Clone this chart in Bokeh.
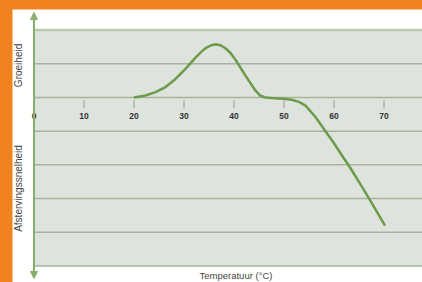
from bokeh.plotting import figure
from bokeh.models import Range1d, Arrow, NormalHead, GlobalInlineStyleSheet
from bokeh.core.properties import value
from bokeh.embed import file_html
from bokeh.resources import INLINE
import math

# ---- data ----
temps = [20, 22.3, 24.3, 26.3, 28.3, 30.3, 32.3, 33.5, 34.5, 35.5, 36.3, 37.3,
         38.3, 39.3, 40.3, 42.3, 44.3, 45.3, 46.3, 48, 50, 51.5, 53, 54.3,
         56.3, 58.3, 60, 61.6, 63.3, 65.3, 67.3, 70.2]
rate = [0, 0.06, 0.16, 0.31, 0.55, 0.85, 1.18, 1.36, 1.48, 1.55, 1.58, 1.55,
        1.46, 1.32, 1.12, 0.65, 0.2, 0.05, 0, -0.02, -0.04, -0.07, -0.13, -0.24,
        -0.58, -1.0, -1.36, -1.72, -2.1, -2.58, -3.07, -3.8]
x_ticks = [0, 10, 20, 30, 40, 50, 60, 70]
x_tick_labels = ["0", "10", "20", "30", "40", "50", "60", "70"]
grid_levels = [2, 1, 0, -1, -2, -3, -4, -5]
y_labels = ["Groeiheid", "Afstervingssnelheid"]
y_label_pos = [0.95, -2.7]
x_title = ["Temperatuur (°C)"]

X0, X1 = -4.3, 77.7
Y0, Y1 = -5.49, 2.61

css = GlobalInlineStyleSheet(css="html,body{background:#F08220;margin:0;padding:0;} body{padding:9px 0 0 12px;overflow:hidden;}")

p = figure(width=410, height=273, output_backend="svg", toolbar_location=None,
           x_range=Range1d(X0, X1), y_range=Range1d(Y0, Y1),
           min_border=0, outline_line_color=None,
           background_fill_color="white", border_fill_color="white",
           stylesheets=[css])
p.axis.visible = False
p.grid.visible = False

green_axis = "#86AE6C"
grid_col = "#A9B39F"
font = value("Liberation Sans")

# shaded plot area
p.quad(left=[0], right=[X1], bottom=[min(grid_levels)], top=[max(grid_levels)],
       fill_color="#DEE3DD", line_color=None)

# gridlines
gcols = ["#B9CAA6" if g == max(grid_levels) else grid_col for g in grid_levels]
gw = [2.5 if g == max(grid_levels) else 1.5 for g in grid_levels]
p.segment(x0=[0] * len(grid_levels), x1=[X1] * len(grid_levels),
          y0=grid_levels, y1=grid_levels, line_color=gcols, line_width=gw)

# x ticks
p.segment(x0=x_ticks, x1=x_ticks, y0=[-0.08] * len(x_ticks), y1=[-0.32] * len(x_ticks),
          line_color="#9A9A9A", line_width=1)
p.text(x=x_ticks, y=[-0.55] * len(x_ticks), text=x_tick_labels,
       text_font=font, text_font_size="8.5px", text_font_style="bold",
       text_color="#333333", text_align="center", text_baseline="middle")

# y axis with arrows
p.add_layout(Arrow(x_start=0, y_start=0, x_end=0, y_end=2.52, line_color=green_axis,
                   line_width=2, end=NormalHead(size=7, fill_color=green_axis,
                                                line_color=green_axis)))
p.add_layout(Arrow(x_start=0, y_start=0, x_end=0, y_end=-5.37, line_color=green_axis,
                   line_width=2, end=NormalHead(size=7, fill_color=green_axis,
                                                line_color=green_axis)))

# y labels
p.text(x=[-3.2] * len(y_labels), y=y_label_pos, text=y_labels, angle=math.pi / 2,
       text_font=font, text_font_size="10px", text_color="#444444",
       text_align="center", text_baseline="middle")

# x title
p.text(x=[40.4], y=[-5.27], text=x_title, text_font=font, text_font_size="9.5px",
       text_color="#444444", text_align="center", text_baseline="middle")

# curve
p.line(temps, rate, line_color="#6C9B4A", line_width=2.5, line_join="round")

open("out.html", "w").write(file_html(p, INLINE))
